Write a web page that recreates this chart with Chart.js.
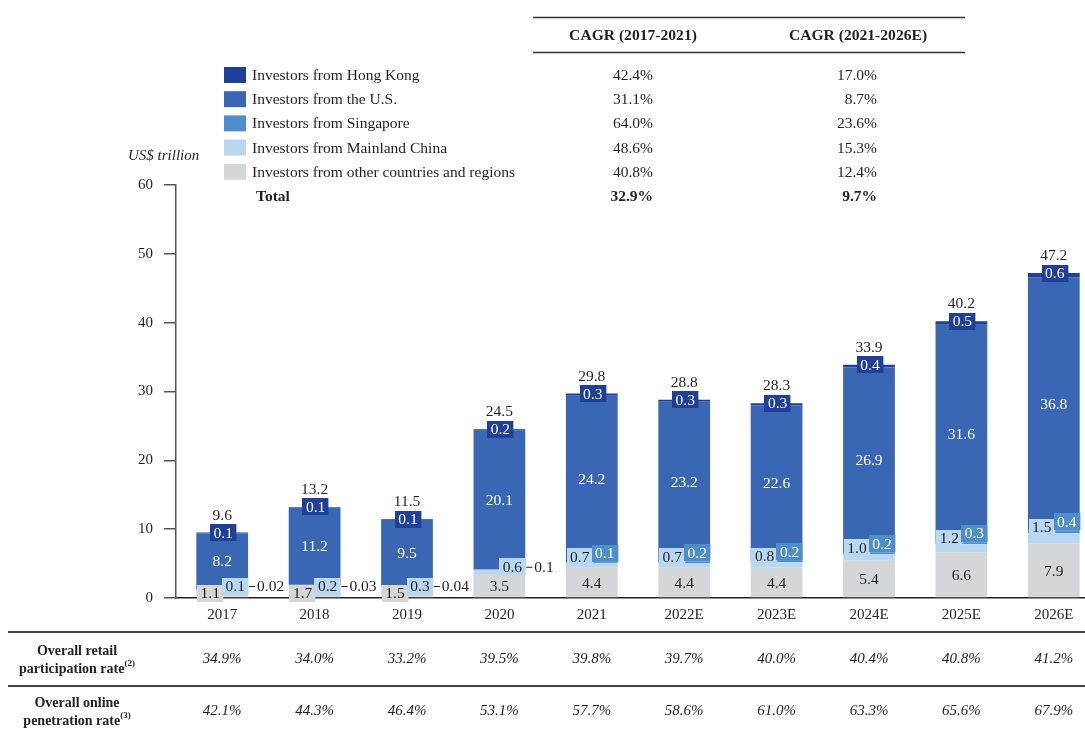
<!DOCTYPE html>
<html>
<head>
<meta charset="utf-8">
<script src="https://cdn.jsdelivr.net/npm/chart.js@4.4.1/dist/chart.umd.min.js"></script>
<style>
  html, body { margin: 0; padding: 0; background: #fff; overflow: hidden; }
  #wrap { position: absolute; left: 0; top: 0; width: 1100px; height: 732px; }
</style>
</head>
<body>
<div id="wrap"><canvas id="chart" width="1100" height="732"></canvas></div>
<script>
(() => {
    'use strict'

    // Data (US$ trillion)
    const years = ['2017', '2018', '2019', '2020', '2021', '2022E', '2023E', '2024E', '2025E', '2026E']
    const otherRegions = [1.1, 1.7, 1.5, 3.5, 4.4, 4.4, 4.4, 5.4, 6.6, 7.9]
    const mainlandChina = [0.1, 0.2, 0.3, 0.6, 0.7, 0.7, 0.8, 1.0, 1.2, 1.5]
    const singapore = [0.02, 0.03, 0.04, 0.1, 0.1, 0.2, 0.2, 0.2, 0.3, 0.4]
    const unitedStates = [8.2, 11.2, 9.5, 20.1, 24.2, 23.2, 22.6, 26.9, 31.6, 36.8]
    const hongKong = [0.1, 0.1, 0.1, 0.2, 0.3, 0.3, 0.3, 0.4, 0.5, 0.6]
    const totals = [9.6, 13.2, 11.5, 24.5, 29.8, 28.8, 28.3, 33.9, 40.2, 47.2]

    const seriesNames = [
        'Investors from Hong Kong',
        'Investors from the U.S.',
        'Investors from Singapore',
        'Investors from Mainland China',
        'Investors from other countries and regions'
    ]
    const cagrHeaders = ['CAGR (2017-2021)', 'CAGR (2021-2026E)']
    const cagrHistoric = ['42.4%', '31.1%', '64.0%', '48.6%', '40.8%', '32.9%']
    const cagrForecast = ['17.0%', '8.7%', '23.6%', '15.3%', '12.4%', '9.7%']

    const retailParticipation = ['34.9%', '34.0%', '33.2%', '39.5%', '39.8%', '39.7%', '40.0%', '40.4%', '40.8%', '41.2%']
    const onlinePenetration = ['42.1%', '44.3%', '46.4%', '53.1%', '57.7%', '58.6%', '61.0%', '63.3%', '65.6%', '67.9%']

    const colors = {
        hk: '#1f3f98',
        us: '#3a67b3',
        sg: '#4e8ecb',
        china: '#b8d7f0',
        other: '#d5d6d8'
    }
    const serif = '"Liberation Serif", "DejaVu Serif", serif'
    const ink = '#231f20'

    const fmt = v => (v < 0.1 ? v.toFixed(2) : v.toFixed(1))

    function setFont (c, size, weight, style) {
        c.font = (style || 'normal') + ' ' + (weight || 'normal') + ' ' + size + 'px ' + serif
    }

    function label (c, text, x, y, color, align) {
        c.fillStyle = color
        c.textAlign = align || 'center'
        c.textBaseline = 'middle'
        c.fillText(text, x, y)
    }

    function boxLabel (c, text, cx, cy, bg, fg) {
        const w = Math.max(24, c.measureText(text).width + 7)
        const h = 17
        c.fillStyle = bg
        c.fillRect(Math.round(cx - w / 2), Math.round(cy - h / 2), w, h)
        label(c, text, cx, cy + 1, fg)
    }

    // value labels on the bars
    const barLabels = {
        id: 'barLabels',
        afterDatasetsDraw (chart) {
            const c = chart.ctx
            const m = [0, 1, 2, 3, 4].map(i => chart.getDatasetMeta(i).data)
            const yZero = chart.scales.y.getPixelForValue(0)
            c.save()
            setFont(c, 15.5)
            years.forEach((yr, i) => {
                const other = m[0][i]
                const china = m[1][i]
                const sg = m[2][i]
                const us = m[3][i]
                const hk = m[4][i]
                const cx = other.x
                const right = cx + other.width / 2

                label(c, fmt(totals[i]), cx, hk.y - 17, ink)
                label(c, fmt(unitedStates[i]), cx, (us.y + us.base) / 2 + 1, '#fff')
                boxLabel(c, fmt(hongKong[i]), cx + 1, hk.y, colors.hk, '#fff')

                if (i < 4) {
                    let chinaY
                    if (i < 3) {
                        boxLabel(c, fmt(otherRegions[i]), cx - 12, yZero - 5, colors.other, ink)
                        chinaY = yZero - 12
                    } else {
                        label(c, fmt(otherRegions[i]), cx, (other.y + other.base) / 2 + 1, ink)
                        chinaY = china.y - 3
                    }
                    boxLabel(c, fmt(mainlandChina[i]), cx + 13, chinaY, colors.china, ink)
                    c.strokeStyle = ink
                    c.lineWidth = 1
                    c.beginPath()
                    c.moveTo(right + 1, chinaY + 0.5)
                    c.lineTo(right + 7, chinaY + 0.5)
                    c.stroke()
                    label(c, fmt(singapore[i]), right + 9, chinaY + 1, ink, 'left')
                } else {
                    label(c, fmt(otherRegions[i]), cx, (other.y + other.base) / 2 + 1, ink)
                    boxLabel(c, fmt(mainlandChina[i]), cx - 12, china.y - 6, colors.china, ink)
                    boxLabel(c, fmt(singapore[i]), cx + 13, sg.y - 9, colors.sg, '#fff')
                }
            })
            c.restore()
        }
    }

    // legend, CAGR table, axis title and the rate rows
    const frame = {
        id: 'frame',
        afterDraw (chart) {
            const c = chart.ctx
            const legendColors = [colors.hk, colors.us, colors.sg, colors.china, colors.other]
            const rowY = k => 75 + k * 24.2
            c.save()

            // CAGR table rules
            c.strokeStyle = '#333'
            c.lineWidth = 1.5
            c.beginPath()
            c.moveTo(533, 17.5)
            c.lineTo(965, 17.5)
            c.moveTo(533, 52.5)
            c.lineTo(965, 52.5)
            c.stroke()

            setFont(c, 15.6, 'bold')
            label(c, cagrHeaders[0], 633, 36, ink)
            label(c, cagrHeaders[1], 858, 36, ink)

            seriesNames.forEach((name, k) => {
                c.fillStyle = legendColors[k]
                c.fillRect(224, rowY(k) - 8, 22, 16)
                setFont(c, 15.5)
                label(c, name, 252, rowY(k) + 1, ink, 'left')
                label(c, cagrHistoric[k], 653, rowY(k) + 1, ink, 'right')
                label(c, cagrForecast[k], 877, rowY(k) + 1, ink, 'right')
            })
            setFont(c, 15.5, 'bold')
            label(c, 'Total', 256, rowY(5) + 1, ink, 'left')
            label(c, cagrHistoric[5], 653, rowY(5) + 1, ink, 'right')
            label(c, cagrForecast[5], 877, rowY(5) + 1, ink, 'right')

            // axis title
            setFont(c, 15, 'normal', 'italic')
            label(c, 'US$ trillion', 128, 156, ink, 'left')

            // rate rows
            c.strokeStyle = '#444'
            c.lineWidth = 2
            c.beginPath()
            c.moveTo(8, 632)
            c.lineTo(1100, 632)
            c.moveTo(8, 686)
            c.lineTo(1100, 686)
            c.stroke()

            const rowHead = (line1, line2, sup, y) => {
                setFont(c, 14, 'bold')
                label(c, line1, 77, y - 9, ink)
                const w1 = c.measureText(line2).width
                setFont(c, 9, 'bold')
                const w2 = c.measureText(sup).width
                const x0 = 77 - (w1 + w2) / 2
                setFont(c, 14, 'bold')
                label(c, line2, x0, y + 9, ink, 'left')
                setFont(c, 9, 'bold')
                label(c, sup, x0 + w1, y + 4, ink, 'left')
            }
            rowHead('Overall retail', 'participation rate', '(2)', 660)
            rowHead('Overall online', 'penetration rate', '(3)', 712)

            const xs = chart.getDatasetMeta(0).data.map(el => el.x)
            setFont(c, 15, 'normal', 'italic')
            xs.forEach((x, i) => {
                label(c, retailParticipation[i], x, 659, ink)
                label(c, onlinePenetration[i], x, 711, ink)
            })
            c.restore()
        }
    }

    const ctx = document.getElementById('chart')
    // eslint-disable-next-line no-unused-vars
    const myChart = new Chart(ctx, {
        type: 'bar',
        data: {
            labels: years,
            datasets: [
                { label: seriesNames[4], data: otherRegions, backgroundColor: colors.other },
                { label: seriesNames[3], data: mainlandChina, backgroundColor: colors.china },
                { label: seriesNames[2], data: singapore, backgroundColor: colors.sg },
                { label: seriesNames[1], data: unitedStates, backgroundColor: colors.us },
                { label: seriesNames[0], data: hongKong, backgroundColor: colors.hk }
            ]
        },
        options: {
            responsive: false,
            animation: false,
            layout: { padding: { top: 185, left: 0, right: 0, bottom: 0 } },
            datasets: { bar: { barPercentage: 0.56, categoryPercentage: 1 } },
            plugins: {
                legend: { display: false },
                tooltip: { enabled: false }
            },
            scales: {
                x: {
                    stacked: true,
                    grid: { display: false, drawTicks: false },
                    border: { display: true, color: '#222', width: 1.5 },
                    ticks: { padding: 8, color: ink, font: { family: serif, size: 15 } },
                    afterFit: s => { s.height = 134 }
                },
                y: {
                    stacked: true,
                    min: 0,
                    max: 60,
                    ticks: { stepSize: 10, padding: 11, color: ink, font: { family: serif, size: 15 } },
                    grid: { drawOnChartArea: false, tickLength: 12, tickColor: '#555', lineWidth: 1.5 },
                    border: { color: '#555', width: 1.5 },
                    afterFit: s => { s.width = 176 }
                }
            }
        },
        plugins: [barLabels, frame]
    })
})()
</script>
</body>
</html>
